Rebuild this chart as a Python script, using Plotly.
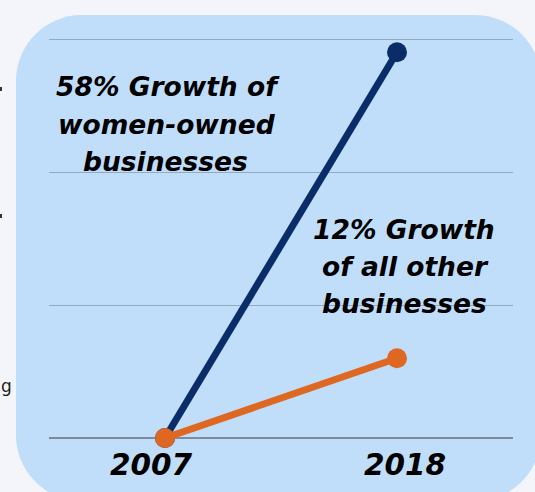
import plotly.graph_objects as go

# ---- data ----
years = [2007, 2018]
women_owned = [0, 58]      # % growth, women-owned businesses
all_other = [0, 12]        # % growth, all other businesses
year_labels = ["2007", "2018"]
note_women = ["58% Growth of", "women-owned", "businesses"]
note_other = ["12% Growth", "of all other", "businesses"]

# ---- canvas / layout geometry (pixels) ----
W, H = 535, 492
ML, MR, MT, MB = 49, 22, 26, 1
PW, PH = W - ML - MR, H - MT - MB

# y: 0 -> 438px, 60 -> 39px ; x: 2007 -> 165px, 2018 -> 397px
ppu_y = (438 - 39) / 60
ymax = 60 + (39 - MT) / ppu_y
ymin = -((H - MB) - 438) / ppu_y
ppu_x = (397 - 165) / 11
xmin = 2007 - (165 - ML) / ppu_x
xmax = 2018 + ((W - MR) - 397) / ppu_x


def px(x):
    return (x - ML) / PW


def py(y):
    return ((H - MB) - y) / PH


PAGE = "#F4F5FA"
PANEL = "#C0DDFA"
NAVY = "#0A2D69"
ORANGE = "#DE6822"
FONT = "DejaVu Sans"


def rounded_rect(x0, y0, x1, y1, r):
    k = 0.5523 * r
    pts = [
        f"M {px(x0 + r)},{py(y0)}",
        f"L {px(x1 - r)},{py(y0)}",
        f"C {px(x1 - r + k)},{py(y0)} {px(x1)},{py(y0 + r - k)} {px(x1)},{py(y0 + r)}",
        f"L {px(x1)},{py(y1 - r)}",
        f"C {px(x1)},{py(y1 - r + k)} {px(x1 - r + k)},{py(y1)} {px(x1 - r)},{py(y1)}",
        f"L {px(x0 + r)},{py(y1)}",
        f"C {px(x0 + r - k)},{py(y1)} {px(x0)},{py(y1 - r + k)} {px(x0)},{py(y1 - r)}",
        f"L {px(x0)},{py(y0 + r)}",
        f"C {px(x0)},{py(y0 + r - k)} {px(x0 + r - k)},{py(y0)} {px(x0 + r)},{py(y0)}",
        "Z",
    ]
    return " ".join(pts)


fig = go.Figure()

fig.add_trace(go.Scatter(
    x=years, y=women_owned, mode="lines+markers",
    line=dict(color=NAVY, width=7),
    marker=dict(color=NAVY, size=20),
    cliponaxis=False, hoverinfo="skip",
))
fig.add_trace(go.Scatter(
    x=years, y=all_other, mode="lines+markers",
    line=dict(color=ORANGE, width=7),
    marker=dict(color=ORANGE, size=20),
    cliponaxis=False, hoverinfo="skip",
))

shapes = [
    dict(type="path", xref="paper", yref="paper", layer="below",
         path=rounded_rect(16, 15, 541, 501, 66),
         fillcolor=PANEL, line=dict(width=0)),
    # clipped fragments from neighbouring page content
    dict(type="rect", xref="paper", yref="paper", layer="below",
         x0=px(-1), x1=px(2), y0=py(91), y1=py(87),
         fillcolor="#333333", line=dict(width=0)),
    dict(type="rect", xref="paper", yref="paper", layer="below",
         x0=px(-1), x1=px(2), y0=py(218), y1=py(214),
         fillcolor="#333333", line=dict(width=0)),
]

bold_italic = dict(family=FONT, color="#000000", weight="bold", style="italic")
NOTE_SIZE = 26.5

annotations = []
# callout notes, one annotation per line so the line pitch can be set
for lines, cx, baselines in [
    (note_women, [167.5, 166.5, 165.5], [94, 132, 169]),
    (note_other, [403.5, 405, 404], [237, 274, 311]),
]:
    for txt, x, b in zip(lines, cx, baselines):
        annotations.append(dict(
            text=txt, xref="paper", yref="paper",
            x=px(x), y=py(b - 0.3 * NOTE_SIZE),
            xanchor="center", yanchor="middle", showarrow=False,
            font=dict(size=NOTE_SIZE, **bold_italic)))

annotations.append(dict(
    text="g", xref="paper", yref="paper", x=px(-1), y=py(386),
    xanchor="left", yanchor="middle", showarrow=False,
    font=dict(size=17, family=FONT, color="#222222")))

# year labels under each point
for yr, lab, shift in zip(years, year_labels, [-14, 8]):
    annotations.append(dict(
        text=lab, xref="x", yref="paper", x=yr, y=py(465), xshift=shift,
        xanchor="center", yanchor="middle", showarrow=False,
        font=dict(size=29.5, **bold_italic)))

fig.update_layout(
    width=W, height=H,
    margin=dict(l=ML, r=MR, t=MT, b=MB, pad=0),
    paper_bgcolor=PAGE, plot_bgcolor="rgba(0,0,0,0)",
    showlegend=False,
    shapes=shapes, annotations=annotations,
    xaxis=dict(range=[xmin, xmax], showgrid=False, zeroline=False,
               showticklabels=False, ticks="", fixedrange=True),
    yaxis=dict(range=[ymin, ymax], tick0=0, dtick=20, showgrid=True,
               gridcolor="#93AAC2", gridwidth=1,
               zeroline=True, zerolinecolor="#7D8C9C", zerolinewidth=1.5,
               showticklabels=False, ticks="", fixedrange=True),
)

fig.write_html("out.html", config=dict(displayModeBar=False))
